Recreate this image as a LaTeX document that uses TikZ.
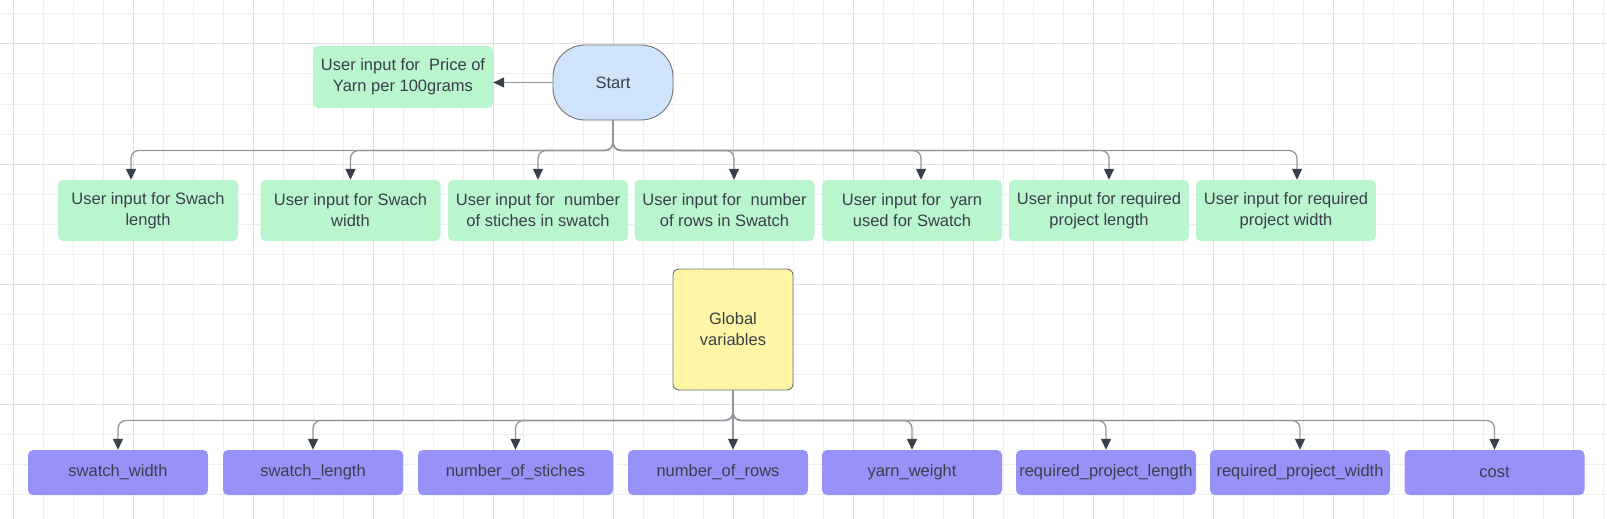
\documentclass[tikz,border=0pt]{standalone}
\usepackage{fontspec}
\setmainfont{Liberation Sans}
\usetikzlibrary{arrows.meta}
\definecolor{InFill}{RGB}{185,245,205}
\definecolor{VarFill}{RGB}{150,146,247}
\definecolor{StartFill}{RGB}{207,228,251}
\definecolor{GlobFill}{RGB}{255,245,165}
\definecolor{Ink}{RGB}{58,64,74}
\definecolor{Wire}{RGB}{145,150,156}
\definecolor{Edge}{RGB}{110,114,120}
\definecolor{GridMinor}{RGB}{239,239,239}
\definecolor{GridMajor}{RGB}{222,222,222}
\tikzset{
  >={Triangle[length=11pt,width=10pt,color=Ink]},
  inbox/.style={fill=InFill,rounded corners=5pt,align=center,minimum width=180pt,minimum height=61pt,inner sep=2pt,text=Ink},
  varbox/.style={fill=VarFill,rounded corners=5pt,align=center,minimum width=180pt,minimum height=45pt,inner sep=0pt,text=Ink},
  startbox/.style={draw=Edge,fill=StartFill,line width=0.9pt,rounded corners=32pt,minimum width=120pt,minimum height=75pt,text=Ink},
  globbox/.style={draw=Edge,fill=GlobFill,line width=0.9pt,rounded corners=6pt,align=center,minimum width=120pt,minimum height=121pt,text=Ink},
  link/.style={->,draw=Wire,line width=1.3pt,rounded corners=8pt},
}

\begin{document}
\begin{tikzpicture}[x=1pt,y=-1pt,font=\fontsize{16.5}{21}\selectfont]
  \useasboundingbox (0,0) rectangle (1607,519);
  % Raster
  \foreach \gx in {13,43,...,1603} \draw[GridMinor,line width=1pt] (\gx,0) -- (\gx,519);
  \foreach \gy in {14,44,...,514} \draw[GridMinor,line width=1pt] (0,\gy) -- (1607,\gy);
  \foreach \gx in {13,133,...,1603} \draw[GridMajor,line width=1pt] (\gx,0) -- (\gx,519);
  \foreach \gy in {44,164,...,514} \draw[GridMajor,line width=1pt] (0,\gy) -- (1607,\gy);

  % Start und Preis
  \node[startbox] (start) at (613,82.5) {Start};
  \node[inbox,minimum height=62pt] (price) at (403,77) {User input for\ \ Price of\\Yarn per 100grams};
  \draw[link] (start.west) -- (price.east |- start.west);

  % Eingaben
  \node[inbox] (g1) at (148,210.5) {User input for Swach\\length};
  \node[inbox] (g2) at (350.5,210.5) {User input for Swach\\width};
  \node[inbox] (g3) at (538,210.5) {User input for\ \ number\\of stiches in swatch};
  \node[inbox] (g4) at (724.5,210.5) {User input for\ \ number\\of rows in Swatch};
  \node[inbox] (g5) at (912,210.5) {User input for\ \ yarn\\used for Swatch};
  \node[inbox] (g6) at (1099,210.5) {User input for required\\project length};
  \node[inbox] (g7) at (1286,210.5) {User input for required\\project width};
  \foreach \n/\dx in {g1/-17,g2/0,g3/0,g4/9.5,g5/9,g6/10,g7/11} {
      \draw[link] (start.south) -- ++(0,30) -| ([xshift=\dx pt]\n.north);
    }

  % Globale Variablen
  \node[globbox] (glob) at (733,329.5) {Global\\variables};
  \node[varbox] (v1) at (118,472.5) {swatch\_width};
  \node[varbox] (v2) at (313,472.5) {swatch\_length};
  \node[varbox,minimum width=195pt] (v3) at (515.5,472.5) {number\_of\_stiches};
  \node[varbox] (v4) at (718,472.5) {number\_of\_rows};
  \node[varbox] (v5) at (912,472.5) {yarn\_weight};
  \node[varbox] (v6) at (1106,472.5) {required\_project\_length};
  \node[varbox] (v7) at (1300,472.5) {required\_project\_width};
  \node[varbox] (v8) at (1494.5,472.5) {cost};
  \draw[link] (glob.south) -- ([xshift=15pt]v4.north);
  \foreach \n in {v1,v2,v3,v5,v6,v7,v8} {
      \draw[link] (glob.south) -- ++(0,30) -| (\n.north);
    }
\end{tikzpicture}
\end{document}
